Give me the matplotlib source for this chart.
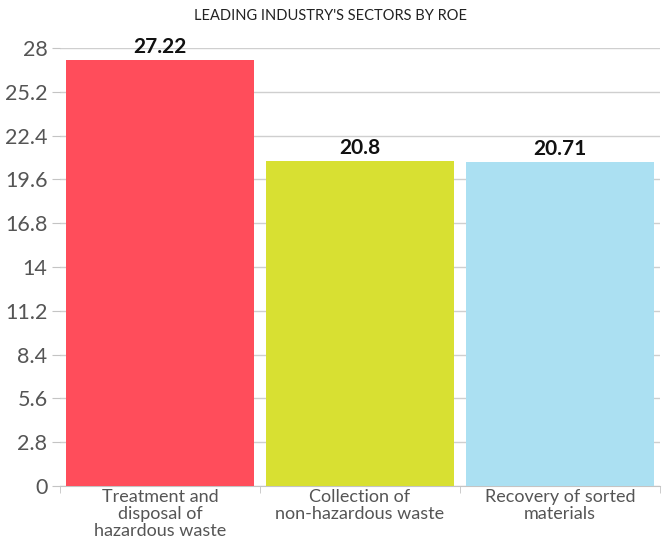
import matplotlib
matplotlib.use('Agg')
import matplotlib.pyplot as plt
import numpy as np

categories = ['Treatment and\ndisposal of\nhazardous waste',
              'Collection of\nnon-hazardous waste',
              'Recovery of sorted\nmaterials']
values = [27.22, 20.8, 20.71]
value_labels = ['27.22', '20.8', '20.71']
colors = ['#FF4D5B', '#D8E032', '#ABE0F2']
y_ticks = [0, 2.8, 5.6, 8.4, 11.2, 14, 16.8, 19.6, 22.4, 25.2, 28]
y_tick_labels = ['0', '2.8', '5.6', '8.4', '11.2', '14', '16.8', '19.6', '22.4', '25.2', '28']

plt.rcParams['font.family'] = ['Lato', 'DejaVu Sans']

fig = plt.figure(figsize=(6.65, 5.45), dpi=100)
ax = fig.add_axes([60 / 665, 59 / 545, 600 / 665, 438 / 545])

x = np.arange(len(values))
ax.bar(x, values, width=0.94, color=colors, zorder=3)
for xi, v, lab in zip(x, values, value_labels):
    ax.text(xi, v + 0.2, lab, ha='center', va='bottom', fontsize=15,
            fontweight='bold', color='#111111', zorder=4)

ax.set_xlim(-0.5, len(values) - 0.5)
ax.set_ylim(0, 28)
ax.set_yticks(y_ticks)
ax.set_yticklabels(y_tick_labels, fontsize=15.5, color='#555555')
ax.yaxis.grid(True, color='#CFCFCF', linewidth=1, zorder=0)
ax.tick_params(axis='y', length=6, color='#C4C4C4', pad=3)

ax.set_xticks(x)
ax.set_xticklabels(categories, fontsize=13, color='#555555', linespacing=1.08)
ax.set_xticks(np.arange(len(values) + 1) - 0.5, minor=True)
ax.tick_params(axis='x', which='major', length=0, pad=2)
ax.tick_params(axis='x', which='minor', length=5, color='#C4C4C4')

for side in ['top', 'right', 'left']:
    ax.spines[side].set_visible(False)
ax.spines['bottom'].set_color('#C4C4C4')

fig.text(330 / 665, 1 - 16 / 545, "LEADING INDUSTRY'S SECTORS BY ROE",
         ha='center', va='center', fontsize=10.5, color='#222222')

fig.savefig('out.png', dpi=100)
